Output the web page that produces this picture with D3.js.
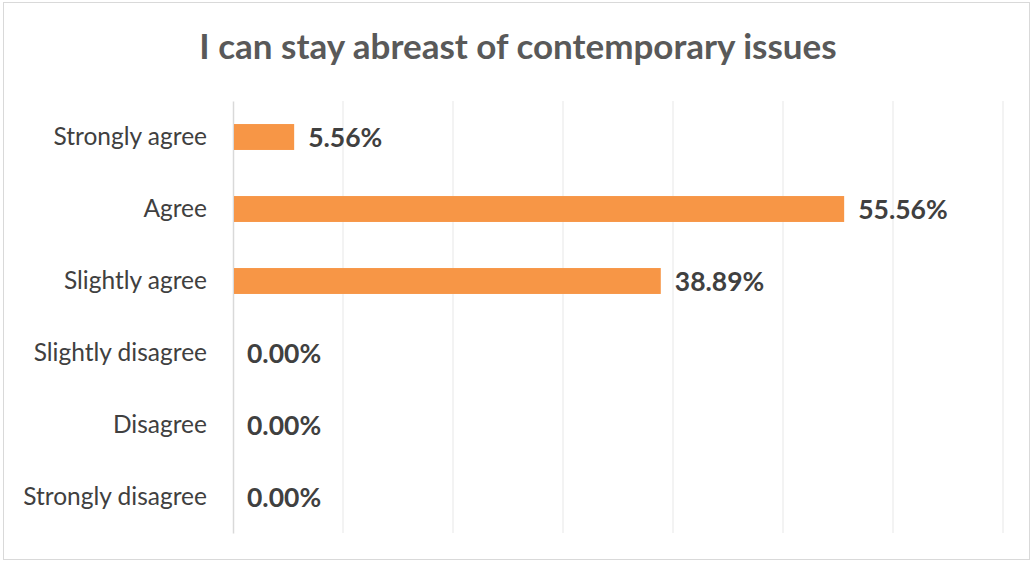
<!DOCTYPE html>
<html>
<head>
<meta charset="utf-8">
<script src="https://cdn.jsdelivr.net/npm/d3@7"></script>
<style>
  body { margin: 0; background: #fff; }
  svg { display: block; font-family: Lato, "Open Sans", sans-serif; }
</style>
</head>
<body>
<div id="chart"></div>
<script>
// chart data
var categories = ["Strongly agree", "Agree", "Slightly agree", "Slightly disagree", "Disagree", "Strongly disagree"];
var values = [5.56, 55.56, 38.89, 0.00, 0.00, 0.00];
var xTicks = [0, 10, 20, 30, 40, 50, 60, 70];
var title = "I can stay abreast of contemporary issues";

var W = 1032, H = 562;
var margin = {top: 101, right: 29, bottom: 29, left: 233},
    width = W - margin.left - margin.right,
    height = H - margin.top - margin.bottom;

var svg = d3.select("#chart")
    .append("svg")
    .attr("width", W)
    .attr("height", H);

// outer border
svg.append("rect")
    .attr("x", 3.5).attr("y", 2.5)
    .attr("width", W - 6).attr("height", H - 5)
    .attr("fill", "#fff")
    .attr("stroke", "#d9d9d9")
    .attr("stroke-width", 1);

svg.append("text")
    .attr("x", 518).attr("y", 59)
    .attr("text-anchor", "middle")
    .attr("font-size", 35)
    .attr("font-weight", "bold")
    .attr("fill", "#595959")
    .text(title);

var g = svg.append("g")
    .attr("transform", "translate(" + margin.left + "," + margin.top + ")");

var x = d3.scaleLinear().domain([0, 70]).range([0, width]);
var y = d3.scaleBand().domain(categories).range([0, height]).paddingInner(0.64).paddingOuter(0.32);

// gridlines
g.append("g")
    .selectAll("line")
    .data(xTicks.slice(1))
    .enter()
    .append("line")
    .attr("x1", function (d) { return x(d); })
    .attr("x2", function (d) { return x(d); })
    .attr("y1", 0).attr("y2", height)
    .attr("stroke", "#efefef")
    .attr("stroke-width", 1.5);

// category axis
var yAxis = g.append("g").call(d3.axisLeft(y).tickSize(0).tickPadding(26));
yAxis.select(".domain").attr("stroke", "#d9d9d9").attr("stroke-width", 1.5);
yAxis.selectAll("text")
    .attr("font-family", "Lato, 'Open Sans', sans-serif")
    .attr("font-size", 24.5)
    .attr("fill", "#404040");

// bars
g.append("g")
    .selectAll("rect")
    .data(values)
    .enter()
    .append("rect")
    .attr("x", 1)
    .attr("y", function (d, i) { return y(categories[i]); })
    .attr("width", function (d) { return Math.max(0, x(d) - 1); })
    .attr("height", y.bandwidth())
    .attr("fill", "#f79646");

// value labels
g.append("g")
    .selectAll("text")
    .data(values)
    .enter()
    .append("text")
    .attr("x", function (d) { return x(d) + 14; })
    .attr("y", function (d, i) { return y(categories[i]) + y.bandwidth() / 2; })
    .attr("dy", "0.36em")
    .attr("font-size", 26.5)
    .attr("font-weight", "bold")
    .attr("fill", "#404040")
    .text(function (d) { return d.toFixed(2) + "%"; });
</script>
</body>
</html>
